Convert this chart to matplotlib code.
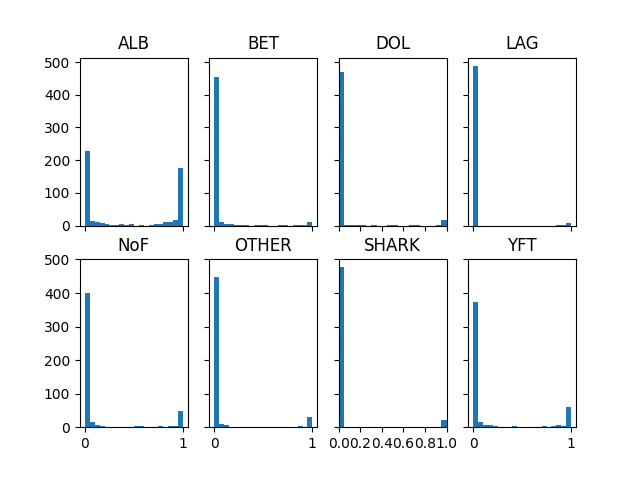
import numpy as np
import matplotlib
matplotlib.use("Agg")
import matplotlib.pyplot as plt

# classes in panel order (row major)
classes = ["ALB", "BET", "DOL", "LAG", "NoF", "OTHER", "SHARK", "YFT"]

# histogram counts per class, 20 bins over [0, 1]
alb   = [228, 14, 11, 8, 5, 2, 2, 5, 2, 5, 0, 2, 0, 2, 5, 5, 11, 11, 16, 176]
bet   = [455, 11, 5, 5, 2, 2, 2, 0, 2, 2, 2, 0, 0, 2, 2, 0, 2, 2, 2, 12]
dol   = [470, 2, 2, 2, 2, 0, 2, 0, 0, 2, 2, 0, 0, 2, 2, 0, 0, 0, 2, 18]
lag   = [489, 0, 0, 0, 0, 0, 0, 0, 0, 0, 0, 0, 0, 0, 0, 0, 0, 2, 2, 9]
nof   = [400, 16, 8, 5, 0, 0, 0, 0, 0, 0, 5, 5, 0, 0, 0, 5, 0, 5, 5, 49]
other = [447, 11, 8, 0, 0, 0, 0, 0, 0, 0, 0, 0, 0, 0, 0, 0, 0, 4, 0, 29]
shark = [477, 0, 0, 0, 0, 0, 0, 0, 0, 0, 0, 0, 0, 0, 0, 0, 0, 0, 0, 22]
yft   = [373, 16, 7, 7, 4, 0, 0, 0, 4, 0, 0, 0, 0, 0, 4, 0, 4, 7, 4, 61]

counts = [alb, bet, dol, lag, nof, other, shark, yft]
edges = np.linspace(0, 1, 21)
centers = (edges[:-1] + edges[1:]) / 2

fig, axes = plt.subplots(2, 4, sharex="col", sharey="row", figsize=(6.4, 4.8), dpi=100)

for ax, name, c in zip(axes.flat, classes, counts):
    ax.hist(centers, bins=edges, weights=c)
    ax.set_title(name)

# DOL / SHARK column has tight limits and finer ticks
axes[1, 2].set_xlim(0, 1)
axes[1, 2].set_xticks(np.arange(0, 1.01, 0.2))
for ax in axes[1, [0, 1, 3]]:
    ax.set_xticks([0, 1])

fig.savefig("out.png")
